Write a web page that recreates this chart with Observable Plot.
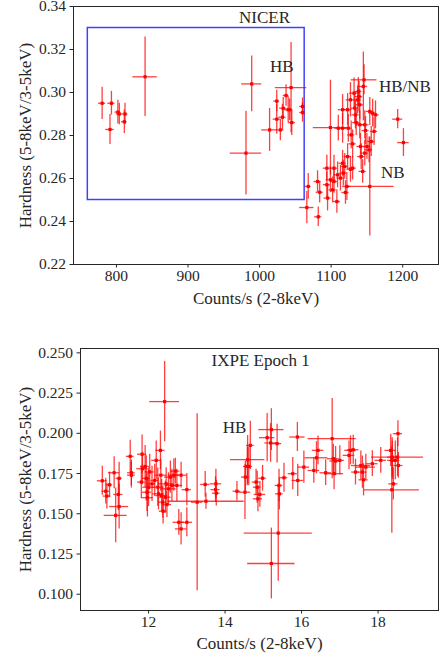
<!DOCTYPE html>
<html>
<head>
<meta charset="utf-8">
<script src="https://cdn.jsdelivr.net/npm/d3@7"></script>
<script src="https://cdn.jsdelivr.net/npm/@observablehq/plot@0.6"></script>
<style>
  html, body { margin: 0; padding: 0; background: #fff; }
  #chart svg { display: block; }
</style>
</head>
<body>
<div id="chart"></div>
<script>
// ---------- NICER panel data ----------
const nicerCounts = [780,793,791,802,804,812,811,840,989,981,1014,1024,1024,1029,1032,1033,1037,1040,1044,1045,1042,1060,1060,1068,1066,1082,1081,1084,1099,1094,1094,1095,1099,1102,1104,1104,1108,1110,1109,1113,1116,1116,1116,1117,1119,1120,1122,1123,1123,1124,1127,1127,1128,1130,1130,1132,1133,1134,1135,1137,1138,1139,1140,1140,1141,1142,1144,1145,1146,1147,1147,1148,1150,1153,1154,1154,1156,1158,1160,1162,1193,1201];
const nicerCountsErr = [5,5,6,4,4,4,4,17,14,22,11,4,5,5,5,5,4,5,22,5,4,4,4,4,10,5,5,5,24,5,5,5,6,5,5,5,5,5,5,5,6,5,5,5,5,5,6,6,5,5,5,6,5,5,5,6,5,5,5,5,5,5,5,6,5,5,5,6,18,6,5,5,5,5,34,5,5,5,5,5,7,8];
const nicerHardness = [0.2950,0.2950,0.2828,0.2909,0.2900,0.2900,0.2864,0.3073,0.3040,0.2718,0.2826,0.2960,0.2876,0.2826,0.2885,0.2927,0.2986,0.2920,0.3023,0.2860,0.2920,0.2935,0.2907,0.2563,0.2465,0.2422,0.2586,0.2536,0.2837,0.2648,0.2571,0.2509,0.2594,0.2547,0.2586,0.2648,0.2493,0.2834,0.2617,0.2602,0.2920,0.2834,0.2671,0.2625,0.2656,0.2535,0.2563,0.2920,0.2702,0.2834,0.2643,0.2966,0.2803,0.2761,0.2648,0.2997,0.2927,0.2896,0.2860,0.2966,0.3005,0.2981,0.2943,0.2850,0.2749,0.2702,0.2633,0.3028,0.3059,0.2850,0.2718,0.2823,0.2749,0.2733,0.2563,0.2912,0.2772,0.2904,0.2819,0.2896,0.2876,0.2767];
const nicerHardnessErr = [0.0075,0.0055,0.0070,0.0055,0.0050,0.0050,0.0055,0.0185,0.0130,0.0195,0.0100,0.0050,0.0070,0.0050,0.0060,0.0050,0.0050,0.0060,0.0210,0.0060,0.0050,0.0040,0.0045,0.0060,0.0075,0.0045,0.0050,0.0050,0.0220,0.0060,0.0060,0.0060,0.0060,0.0060,0.0055,0.0060,0.0055,0.0060,0.0060,0.0060,0.0070,0.0070,0.0060,0.0060,0.0060,0.0055,0.0065,0.0075,0.0060,0.0065,0.0060,0.0080,0.0065,0.0065,0.0055,0.0070,0.0070,0.0065,0.0060,0.0065,0.0065,0.0070,0.0070,0.0065,0.0060,0.0060,0.0055,0.0160,0.0070,0.0065,0.0060,0.0065,0.0060,0.0060,0.0230,0.0065,0.0070,0.0065,0.0065,0.0065,0.0045,0.0065];
const nicerXTicks = [800, 900, 1000, 1100, 1200];
const nicerYTicks = [0.22, 0.24, 0.26, 0.28, 0.30, 0.32, 0.34];
const nicerBox = {x1: 760, x2: 1063, y1: 0.25, y2: 0.33};
const nicerNotes = [
  {text: "NICER", x: 1007, y: 0.3349},
  {text: "HB", x: 1031, y: 0.3121},
  {text: "HB/NB", x: 1203, y: 0.3026},
  {text: "NB", x: 1186, y: 0.2629}
];

// ---------- IXPE Epoch 1 panel data ----------
const ixpeCounts = [10.79,10.88,10.91,10.98,11.10,11.14,11.21,11.23,11.23,11.52,11.55,11.55,11.83,11.81,11.84,11.91,11.94,11.96,11.97,12.00,12.03,12.09,12.16,12.20,12.24,12.26,12.31,12.32,12.34,12.37,12.38,12.42,12.44,12.46,12.48,12.52,12.57,12.61,12.66,12.70,12.74,12.79,12.85,12.85,13.00,13.00,13.27,13.50,13.48,13.75,13.76,13.77,14.31,14.52,14.53,14.58,14.59,14.62,14.66,14.81,14.84,14.86,14.91,14.98,15.10,15.19,15.21,15.21,15.36,15.39,15.41,15.42,15.54,15.77,15.89,15.90,16.06,16.32,16.39,16.43,16.63,16.80,16.83,16.85,16.89,17.00,17.24,17.28,17.35,17.41,17.55,17.59,17.62,17.68,17.85,18.07,18.33,18.37,18.37,18.40,18.36,18.45,18.52,18.53,18.51];
const ixpeCountsErr = [0.13,0.10,0.10,0.08,0.15,0.30,0.12,0.08,0.25,0.10,0.10,0.10,0.12,0.10,0.15,0.12,0.10,0.12,0.15,0.15,0.12,0.10,0.10,0.12,0.15,0.15,0.12,0.15,0.15,0.10,0.10,0.39,0.15,0.20,0.12,0.20,0.15,0.15,0.15,0.12,0.15,0.15,0.15,0.15,0.15,0.12,0.15,1.00,0.12,0.12,0.15,0.10,0.10,0.15,0.10,0.10,0.45,0.10,0.10,0.10,0.10,0.12,0.15,0.10,0.20,0.15,0.33,0.62,0.12,0.89,0.10,0.10,0.10,0.12,0.20,0.15,0.15,0.15,0.30,0.15,0.15,0.63,0.15,0.25,0.15,0.12,0.15,0.15,0.15,0.10,0.25,0.12,0.12,0.25,0.15,0.15,0.15,0.12,0.12,0.12,0.72,0.12,0.12,0.12,0.68];
const ixpeHardness = [0.1705,0.1640,0.1610,0.1680,0.1755,0.1490,0.1620,0.1720,0.1545,0.1857,0.1755,0.1740,0.1870,0.1697,0.1780,0.1794,0.1720,0.1634,0.1600,0.1665,0.1760,0.1686,0.1707,0.1832,0.1665,0.1624,0.1894,0.1740,0.1613,0.1572,0.1516,0.2197,0.1603,0.1686,0.1557,0.1655,0.1728,0.1676,0.1740,0.1765,0.1676,0.1447,0.1740,0.1406,0.1447,0.1650,0.1572,0.1578,0.1682,0.1650,0.1686,0.1628,0.1640,0.1634,0.1728,0.1794,0.1836,0.1794,0.1925,0.1697,0.1665,0.1593,0.1620,0.1721,0.1973,0.1940,0.2023,0.1191,0.1936,0.1380,0.1676,0.1624,0.1724,0.1749,0.1977,0.1707,0.1790,0.1769,0.1848,0.1894,0.1755,0.1967,0.1842,0.1749,0.1828,0.1832,0.1863,0.1894,0.1898,0.1759,0.1800,0.1759,0.1711,0.1790,0.1811,0.1832,0.1894,0.1852,0.1832,0.1686,0.1649,0.1832,0.1998,0.1800,0.1852];
const ixpeHardnessErr = [0.009,0.008,0.008,0.008,0.010,0.017,0.010,0.010,0.014,0.010,0.008,0.008,0.012,0.010,0.010,0.013,0.014,0.012,0.012,0.012,0.011,0.011,0.010,0.012,0.012,0.010,0.012,0.010,0.010,0.010,0.008,0.025,0.010,0.010,0.008,0.010,0.010,0.010,0.010,0.008,0.010,0.008,0.008,0.010,0.009,0.010,0.055,0.005,0.008,0.008,0.009,0.008,0.006,0.017,0.010,0.012,0.015,0.012,0.015,0.008,0.010,0.008,0.008,0.008,0.015,0.012,0.013,0.022,0.012,0.030,0.010,0.010,0.009,0.010,0.009,0.010,0.010,0.008,0.010,0.009,0.008,0.025,0.009,0.010,0.009,0.009,0.009,0.009,0.009,0.008,0.009,0.010,0.010,0.008,0.008,0.008,0.010,0.012,0.012,0.010,0.027,0.012,0.008,0.008,0.012];
const ixpeXTicks = [12, 14, 16, 18];
const ixpeYTicks = [0.100, 0.125, 0.150, 0.175, 0.200, 0.225, 0.250];
const ixpeNotes = [
  {text: "IXPE Epoch 1", x: 14.93, y: 0.2454},
  {text: "HB", x: 14.25, y: 0.2036}
];

const xTitle = "Counts/s (2-8keV)";
const yTitle = "Hardness (5-8keV/3-5keV)";

function rows(xs, xe, ys, ye) {
  return xs.map((x, i) => ({x, xe: xe[i], y: ys[i], ye: ye[i]}));
}

const FONT = "'Liberation Serif', 'DejaVu Serif', serif";
const INK = "#262626";

function panel({data, xDomain, yDomain, xTicks, yTicks, xFmt, yFmt, margins, height, notes, titleDy, titleDx, extra}) {
  return Plot.plot({
    width: 442,
    height,
    ...margins,
    style: {fontFamily: FONT, fontSize: "15.5px", color: INK, background: "#fff", overflow: "visible"},
    x: {domain: xDomain},
    y: {domain: yDomain},
    marks: [
      ...(extra || []),
      Plot.ruleX(data, {x: "x", y1: d => d.y - d.ye, y2: d => d.y + d.ye, stroke: "red", strokeOpacity: 0.75, strokeWidth: 1.3, clip: true}),
      Plot.ruleY(data, {y: "y", x1: d => d.x - d.xe, x2: d => d.x + d.xe, stroke: "red", strokeOpacity: 0.75, strokeWidth: 1.3, clip: true}),
      Plot.dot(data, {x: "x", y: "y", r: 1.8, symbol: "square", fill: "red", stroke: "none"}),
      Plot.text(notes, {x: "x", y: "y", text: "text", fontSize: 17, fill: INK}),
      Plot.frame({stroke: INK, strokeWidth: 1}),
      Plot.axisX({ticks: xTicks, tickFormat: xFmt, tickSize: 3.5, tickPadding: 1.5, label: null, stroke: INK, fill: INK}),
      Plot.axisY({ticks: yTicks, tickFormat: yFmt, tickSize: 3.5, tickPadding: 4, label: null, stroke: INK, fill: INK}),
      Plot.text([xTitle], {frameAnchor: "bottom", dy: titleDy, lineAnchor: "middle", textAnchor: "middle", text: d => d, fontSize: 17, fill: INK}),
      Plot.text([yTitle], {frameAnchor: "left", dx: titleDx, rotate: -90, lineAnchor: "middle", textAnchor: "middle", text: d => d, fontSize: 17, fill: INK})
    ]
  });
}

const nicerPanel = panel({
  data: rows(nicerCounts, nicerCountsErr, nicerHardness, nicerHardnessErr),
  xDomain: [740, 1250], yDomain: [0.22, 0.34],
  xTicks: nicerXTicks, yTicks: nicerYTicks,
  xFmt: d => String(d), yFmt: d => d.toFixed(2),
  margins: {marginLeft: 73, marginRight: 4, marginTop: 6, marginBottom: 65},
  height: 329,
  titleDy: 34,
  titleDx: -48,
  notes: nicerNotes,
  extra: [Plot.rect([nicerBox], {x1: "x1", x2: "x2", y1: "y1", y2: "y2", fill: "none", stroke: "blue", strokeOpacity: 0.75, strokeWidth: 1.5})]
});

const ixpePanel = panel({
  data: rows(ixpeCounts, ixpeCountsErr, ixpeHardness, ixpeHardnessErr),
  xDomain: [10.22, 19.58], yDomain: [0.0899, 0.2527],
  xTicks: ixpeXTicks, yTicks: ixpeYTicks,
  xFmt: d => String(d), yFmt: d => d.toFixed(3),
  margins: {marginLeft: 80, marginRight: 4, marginTop: 19, marginBottom: 48},
  height: 329,
  titleDy: 33,
  titleDx: -55,
  notes: ixpeNotes
});

const root = document.getElementById("chart");
root.appendChild(nicerPanel);
root.appendChild(ixpePanel);
</script>
</body>
</html>
